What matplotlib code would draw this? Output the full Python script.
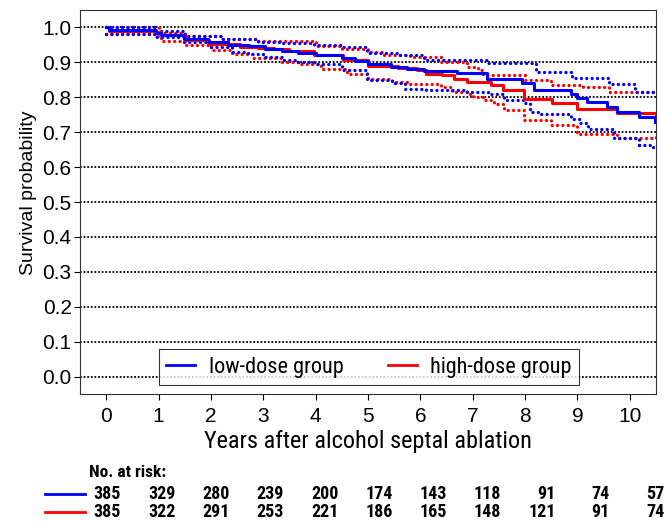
import matplotlib
matplotlib.use('Agg')
import matplotlib.pyplot as plt
from matplotlib.lines import Line2D

plt.rcParams['font.family'] = ['Liberation Sans', 'DejaVu Sans']
NARROW = ['Roboto Condensed', 'Liberation Sans']

# ── Data ──────────────────────────────────────────────────────────────────────
years = [0, 1, 2, 3, 4, 5, 6, 7, 8, 9, 10]
yticks = [0.0, 0.1, 0.2, 0.3, 0.4, 0.5, 0.6, 0.7, 0.8, 0.9, 1.0]

# low-dose group (Kaplan-Meier estimate + 95% CI)
low_t = [0, 0.05, 0.95, 1.05, 1.48, 1.95, 2.33, 2.72, 3.04, 3.36, 3.67, 4.0, 4.5,
         4.75, 5.0, 5.43, 5.75, 6.06, 6.7, 7.28, 7.95, 8.17, 8.87, 9.0, 9.19, 9.57,
         9.76, 10.17, 10.48]
low_s = [1.0, 0.992, 0.985, 0.977, 0.968, 0.958, 0.951, 0.946, 0.939, 0.932, 0.927,
         0.92, 0.913, 0.905, 0.894, 0.886, 0.881, 0.875, 0.869, 0.853, 0.841, 0.822,
         0.81, 0.799, 0.787, 0.772, 0.758, 0.744, 0.73]
low_up_t = [0, 0.95, 1.5, 2.2, 2.9, 3.33, 3.96, 4.5, 4.98, 5.6, 6.07, 7.3, 8.2, 8.9,
            9.6, 10.1, 10.5]
low_up_s = [1.0, 0.99, 0.975, 0.967, 0.957, 0.955, 0.949, 0.945, 0.927, 0.92, 0.906,
            0.897, 0.872, 0.855, 0.838, 0.815, 0.815]
low_dn_t = [0, 0.95, 1.48, 1.97, 2.4, 2.7, 3.0, 3.35, 3.6, 3.96, 4.5, 4.98, 5.45,
            5.7, 6.1, 6.9, 7.3, 7.6, 7.98, 8.1, 8.3, 8.87, 9.05, 9.2, 9.7, 10.17, 10.45]
low_dn_s = [0.982, 0.972, 0.958, 0.944, 0.93, 0.925, 0.915, 0.908, 0.901, 0.894,
            0.877, 0.849, 0.84, 0.825, 0.82, 0.816, 0.81, 0.793, 0.783, 0.758, 0.752,
            0.739, 0.725, 0.71, 0.682, 0.663, 0.644]

# high-dose group
high_t = [0, 0.05, 0.95, 1.05, 1.5, 1.97, 2.55, 2.9, 3.2, 3.5, 3.96, 4.53, 5.0, 5.58,
          5.94, 6.1, 6.42, 6.65, 6.9, 7.35, 7.58, 7.98, 8.52, 9.0, 9.76, 10.5]
high_s = [1.0, 0.99, 0.987, 0.977, 0.963, 0.953, 0.944, 0.94, 0.937, 0.932, 0.92,
          0.906, 0.891, 0.885, 0.877, 0.868, 0.864, 0.853, 0.844, 0.834, 0.822, 0.796,
          0.784, 0.765, 0.756, 0.753]
high_up_t = [0, 1.0, 1.5, 2.2, 2.9, 3.3, 3.96, 4.0, 4.5, 5.0, 5.3, 5.8, 6.4, 6.9, 7.1,
             7.2, 8.0, 8.5, 9.1, 9.6, 10.5]
high_up_s = [1.0, 0.985, 0.975, 0.968, 0.962, 0.96, 0.957, 0.946, 0.939, 0.93, 0.922,
             0.914, 0.9, 0.887, 0.877, 0.863, 0.849, 0.834, 0.829, 0.815, 0.815]
high_dn_t = [0, 0.95, 1.05, 1.5, 2.0, 2.4, 2.8, 3.33, 3.7, 4.1, 4.6, 5.0, 5.45, 5.75,
             6.4, 6.6, 6.9, 7.0, 7.2, 7.4, 7.6, 7.98, 8.5, 9.0, 9.76, 10.5]
high_dn_s = [0.98, 0.975, 0.962, 0.95, 0.935, 0.925, 0.912, 0.901, 0.896, 0.882, 0.868,
             0.853, 0.844, 0.838, 0.829, 0.815, 0.81, 0.8, 0.791, 0.782, 0.763, 0.734,
             0.72, 0.696, 0.682, 0.685]

risk_low = [385, 329, 280, 239, 200, 174, 143, 118, 91, 74, 57]
risk_high = [385, 322, 291, 253, 221, 186, 165, 148, 121, 91, 74]

BLUE = '#0000ff'
RED = '#ff0000'

# ── Figure ────────────────────────────────────────────────────────────────────
fig = plt.figure(figsize=(6.65, 5.21), dpi=100)
ax = fig.add_axes([80 / 665, 127 / 521, 576 / 665, 384 / 521])

for y in yticks:
    ax.axhline(y, color='black', lw=1.3, ls=(0, (1, 1)), zorder=1)

# CI bands: round dots
def ci(t, s, col):
    ax.step(t, s, where='post', color=col, lw=2.4, ls=(0, (0.01, 1.6)),
            dash_capstyle='round', zorder=2)

ci(high_up_t, high_up_s, RED)
ci(high_dn_t, high_dn_s, RED)
ci(low_up_t, low_up_s, BLUE)
ci(low_dn_t, low_dn_s, BLUE)
ax.step(high_t, high_s, where='post', color=RED, lw=2.2, zorder=3)
ax.step(low_t, low_s, where='post', color=BLUE, lw=2.2, zorder=3)

ax.set_xlim(-0.5, 10.5)
ax.set_ylim(-0.05, 1.05)
ax.set_xticks(years)
ax.set_yticks(yticks)
ax.set_yticklabels([f'{v:.1f}' for v in yticks])
ax.tick_params(axis='y', labelsize=15, length=4, width=0.8, pad=2)
ax.tick_params(axis='x', labelsize=15, length=4, width=0.8, pad=5)
for sp in ax.spines.values():
    sp.set_linewidth(0.8)
    sp.set_color('#333333')

ax.set_xlabel('Years after alcohol septal ablation', fontsize=17.5, labelpad=3,
              family=NARROW)
ax.set_ylabel('Survival probability', fontsize=14)
ax.yaxis.set_label_coords(-0.075, 0.525)

handles = [Line2D([], [], color=BLUE, lw=2), Line2D([], [], color=RED, lw=2)]
leg = ax.legend(handles, ['low-dose group', 'high-dose group'], ncol=2,
                loc='center', bbox_to_anchor=(0.144, 0.018, 0.715, 0.104),
                prop={'family': NARROW, 'size': 16}, frameon=True, fancybox=False,
                edgecolor='black', handlelength=1.3, handletextpad=0.6,
                columnspacing=2.0, borderpad=0.35)
leg.get_frame().set_linewidth(0.8)

# ── Number at risk table ──────────────────────────────────────────────────────
ax.text(0.016, -0.204, 'No. at risk:', transform=ax.transAxes, fontsize=12.5,
        fontweight='bold', ha='left', va='center', family=NARROW)
for row, (vals, col) in enumerate([(risk_low, BLUE), (risk_high, RED)]):
    yy = -0.260 - row * 0.048
    ax.add_line(Line2D([-0.06, 0.009], [yy, yy], transform=ax.transAxes,
                       color=col, lw=2.0, clip_on=False))
    for i, v in enumerate(vals):
        ax.text(0.0712 + 0.0943 * i, yy, str(v), transform=ax.transAxes,
                fontsize=13, fontweight='bold', ha='right', va='center',
                family=NARROW)

fig.savefig('out.png', dpi=100)
